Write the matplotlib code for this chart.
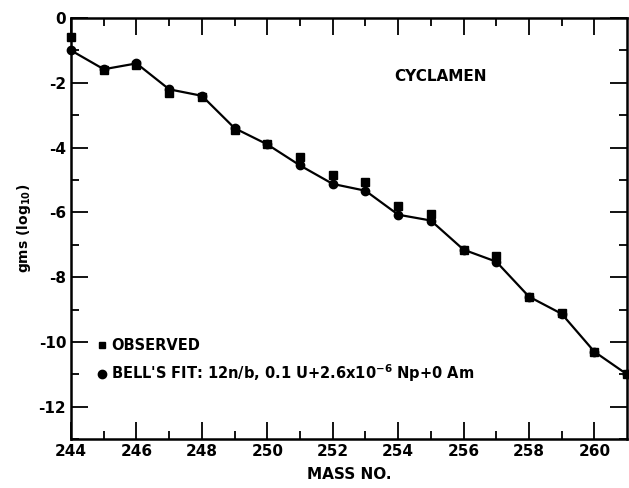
import numpy as np
import matplotlib.pyplot as plt
from matplotlib.lines import Line2D

mass = [244, 245, 246, 247, 248, 249, 250, 251, 252, 253, 254, 255, 256, 257, 258, 259, 260, 261]
observed = [-0.6, -1.6, -1.45, -2.3, -2.45, -3.45, -3.9, -4.3, -4.85, -5.05, -5.8, -6.05, -7.15, -7.35, -8.6, -9.1, -10.3, -11.0]
bell_fit = [-1.0, -1.58, -1.4, -2.2, -2.4, -3.4, -3.9, -4.55, -5.12, -5.33, -6.07, -6.25, -7.15, -7.52, -8.6, -9.13, -10.3, -11.0]

plt.rcParams['font.family'] = 'DejaVu Sans'
plt.rcParams['font.weight'] = 'bold'

fig = plt.figure(figsize=(6.29, 4.88), dpi=100)
ax = fig.add_axes([0.113, 0.100, 0.884, 0.863])

ax.plot(mass, bell_fit, color='black', linewidth=1.6, marker='o', markersize=6, zorder=3, clip_on=False)
ax.plot(mass, observed, linestyle='none', color='black', marker='s', markersize=6, zorder=2, clip_on=False)

ax.set_xlim(244, 261)
ax.set_ylim(-13, 0)
ax.set_xticks(np.arange(244, 261, 2))
ax.set_xticks(np.arange(245, 261, 2), minor=True)
ax.set_yticks(np.arange(-12, 1, 2))
ax.set_yticks(np.arange(-13, 0, 2), minor=True)
ax.set_yticklabels(['-12', '-10', '-8', '-6', '-4', '-2', '0'])

ax.tick_params(which='both', direction='in', top=True, right=True, width=1.3, labelsize=11)
ax.tick_params(which='major', length=12)
ax.tick_params(which='minor', length=6)
for s in ax.spines.values():
    s.set_linewidth(1.8)

ax.set_xlabel('MASS NO.', fontsize=11, fontweight='bold', labelpad=6)
ax.set_ylabel('gms (log$_{10}$)', fontsize=10, fontweight='bold', labelpad=4)

ax.text(255.3, -1.8, 'CYCLAMEN', fontsize=11, fontweight='bold', ha='center', va='center')

handles = [
    Line2D([], [], linestyle='none', marker='s', color='black', markersize=5),
    Line2D([], [], linestyle='none', marker='o', color='black', markersize=6),
]
labels = ['OBSERVED', "BELL'S FIT: 12n/b, 0.1 U+2.6x10$^{-6}$ Np+0 Am"]
leg = ax.legend(handles, labels, loc='lower left', bbox_to_anchor=(0.025, 0.1), frameon=False,
                handlelength=0.6, handletextpad=0.3, labelspacing=0.65, prop={'size': 10.5, 'weight': 'bold'})

fig.savefig('out.png', dpi=100)
